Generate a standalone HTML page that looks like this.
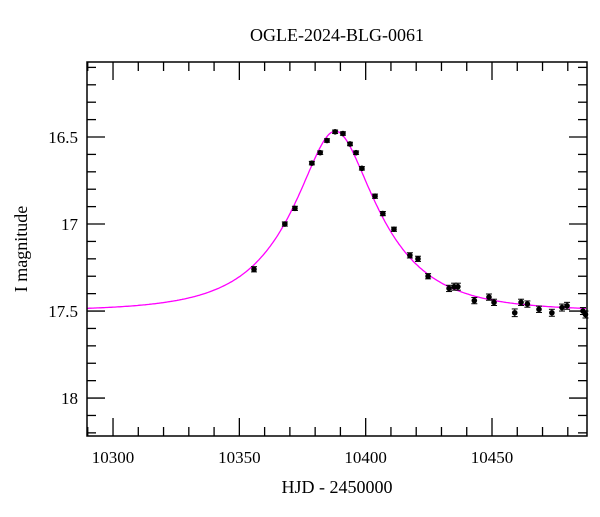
<!DOCTYPE html>
<html><head><meta charset="utf-8"><style>
body{margin:0;background:#fff}
svg text{font-family:"Liberation Serif","DejaVu Serif",serif;fill:#000}
</style></head><body>
<svg id="c" width="600" height="512" xmlns="http://www.w3.org/2000/svg">
<text x="337" y="41" text-anchor="middle" font-size="18">OGLE-2024-BLG-0061</text>
<text x="337" y="493" text-anchor="middle" font-size="18">HJD - 2450000</text>
<text transform="translate(27,249) rotate(-90)" text-anchor="middle" font-size="18">I magnitude</text>
<g id="ticks"></g><g id="model"></g><g id="pts"></g>
<rect x="87" y="62" width="500" height="374" fill="none" stroke="#000" stroke-width="1.5"/>
</svg>
<script>
const times=[10355.8,10368,10372,10378.7,10382,10384.7,10387.9,10391,10393.8,10396.2,10398.5,10403.7,10406.8,10411.2,10417.5,10420.7,10424.7,10433,10435,10436.5,10443,10448.8,10450.8,10459,10461.5,10464,10468.6,10473.7,10477.7,10479.7,10486,10487];
const mags=[17.26,17.0,16.91,16.65,16.59,16.52,16.47,16.48,16.54,16.59,16.68,16.84,16.94,17.03,17.18,17.2,17.3,17.37,17.36,17.36,17.44,17.42,17.45,17.51,17.45,17.46,17.49,17.51,17.48,17.47,17.5,17.52];
const errs=[0.015,0.012,0.012,0.01,0.01,0.01,0.01,0.01,0.01,0.01,0.01,0.012,0.012,0.012,0.015,0.015,0.015,0.018,0.02,0.02,0.018,0.018,0.018,0.022,0.018,0.018,0.018,0.02,0.02,0.02,0.02,0.02];
const modelParams=[10388,0.41,31.5,17.5]; // t0,u0,tE,baseline
const xTicks=[10300,10350,10400,10450];
const yTicks=[16.5,17,17.5,18];
const X0=87,X1=587,Y0=62,Y1=436,tMin=10289.7,tMax=10487.6,mMin=16.069,mMax=18.218;
const sx=t=>X0+(t-tMin)/(tMax-tMin)*(X1-X0);
const sy=m=>Y0+(m-mMin)/(mMax-mMin)*(Y1-Y0);
const NS='http://www.w3.org/2000/svg';
function mk(tag,at,par){const e=document.createElementNS(NS,tag);for(const k in at)e.setAttribute(k,at[k]);par.appendChild(e);return e;}
const tg=document.getElementById('ticks');
for(let t=10290;t<=10487;t+=10){const x=sx(t),maj=(t%50===0),L=maj?18:9;
 const a=mk('line',{x1:x,x2:x,y1:Y1,y2:Y1-L,stroke:'#000','stroke-width':1.3},tg);
 
 const b=mk('line',{x1:x,x2:x,y1:Y0,y2:Y0+L,stroke:'#000','stroke-width':1.3},tg);
 }
xTicks.forEach(t=>{const e=mk('text',{x:sx(t),y:463,'text-anchor':'middle','font-size':17},tg);e.textContent=t;
 });
for(let i=11;i<=82;i++){const m=i/5/2*1;const mm=i*0.1+15;if(mm<mMin||mm>mMax)continue;const y=sy(mm);const maj=Math.abs(mm*2-Math.round(mm*2))<1e-6;const L=maj?18:9;
 const a=mk('line',{x1:X0,x2:X0+L,y1:y,y2:y,stroke:'#000','stroke-width':1.3},tg);
 
 const b=mk('line',{x1:X1,x2:X1-L,y1:y,y2:y,stroke:'#000','stroke-width':1.3},tg);
 }
yTicks.forEach(m=>{const e=mk('text',{x:78,y:sy(m)+6,'text-anchor':'end','font-size':17},tg);e.textContent=m;
 });
const [t0,u0,tE,base]=modelParams;let d='';
for(let t=tMin;t<=tMax;t+=0.5){const tau=(t-t0)/tE,u=Math.sqrt(u0*u0+tau*tau),A=(u*u+2)/(u*Math.sqrt(u*u+4));const m=base-2.5*Math.log10(A);d+=(d?'L':'M')+sx(t).toFixed(1)+','+sy(m).toFixed(1);}
const mp=mk('path',{d:d,fill:'none',stroke:'#ff00ff','stroke-width':1.3},document.getElementById('model'));

const pg=document.getElementById('pts');
times.forEach((t,i)=>{const x=sx(t),y=sy(mags[i]),ya=sy(mags[i]-errs[i]),yb=sy(mags[i]+errs[i]);
 const g=mk('g',{},pg);
 mk('line',{x1:x,x2:x,y1:ya,y2:yb,stroke:'#000','stroke-width':1},g);
 mk('line',{x1:x-3,x2:x+3,y1:ya,y2:ya,stroke:'#000','stroke-width':1},g);
 mk('line',{x1:x-3,x2:x+3,y1:yb,y2:yb,stroke:'#000','stroke-width':1},g);
 mk('circle',{cx:x,cy:y,r:2.8,fill:'#000'},g);});
</script>
</body></html>
